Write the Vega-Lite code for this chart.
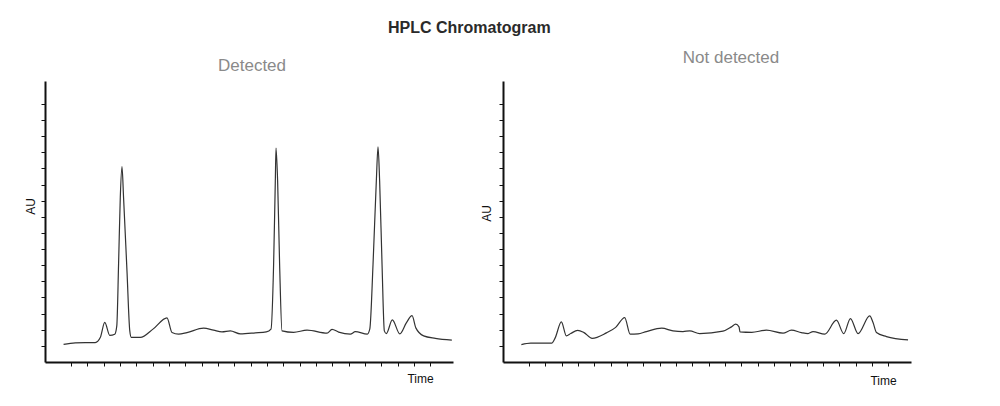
{
  "$schema": "https://vega.github.io/schema/vega-lite/v6.json",
  "padding": {"left": 24, "top": 20, "right": 5, "bottom": 5},
  "background": "white",
  "bounds": "flush",
  "spacing": 50,
  "title": {"text": "HPLC Chromatogram", "anchor": "start", "frame": "group", "font": "Liberation Sans", "fontSize": 16, "fontWeight": "bold", "color": "#2a2a2a", "dx": 343, "dy": -9},
  "datasets": {
    "detected": [
      {"t": 0.547, "au": 1.093}, {"t": 1.263, "au": 1.186}, {"t": 2.488, "au": 1.205}, {"t": 2.794, "au": 1.515},
      {"t": 3.070, "au": 2.457}, {"t": 3.376, "au": 1.651}, {"t": 3.682, "au": 1.725}, {"t": 3.805, "au": 2.240},
      {"t": 3.915, "au": 6.084}, {"t": 4.019, "au": 10.176}, {"t": 4.123, "au": 12.116}, {"t": 4.221, "au": 10.176},
      {"t": 4.429, "au": 5.650}, {"t": 4.601, "au": 1.930}, {"t": 4.693, "au": 1.527}, {"t": 5.244, "au": 1.527},
      {"t": 6.040, "au": 2.054}, {"t": 6.879, "au": 2.736}, {"t": 7.185, "au": 1.825}, {"t": 7.589, "au": 1.725},
      {"t": 8.103, "au": 1.825}, {"t": 9.120, "au": 2.097}, {"t": 9.732, "au": 1.973}, {"t": 10.247, "au": 1.868},
      {"t": 10.755, "au": 1.930}, {"t": 11.368, "au": 1.744}, {"t": 12.286, "au": 1.806}, {"t": 12.960, "au": 1.868},
      {"t": 13.247, "au": 2.035}, {"t": 13.407, "au": 6.065}, {"t": 13.511, "au": 11.229}, {"t": 13.554, "au": 13.257},
      {"t": 13.652, "au": 11.229}, {"t": 13.774, "au": 6.065}, {"t": 13.921, "au": 1.930}, {"t": 14.631, "au": 1.837},
      {"t": 15.452, "au": 1.973}, {"t": 16.677, "au": 1.787}, {"t": 16.983, "au": 2.023}, {"t": 17.387, "au": 1.856},
      {"t": 18.104, "au": 1.725}, {"t": 18.410, "au": 1.880}, {"t": 19.145, "au": 1.732}, {"t": 19.297, "au": 2.054},
      {"t": 19.494, "au": 6.065}, {"t": 19.696, "au": 11.229}, {"t": 19.800, "au": 13.337}, {"t": 19.898, "au": 11.229},
      {"t": 20.045, "au": 6.065}, {"t": 20.186, "au": 1.930}, {"t": 20.308, "au": 1.763}, {"t": 20.676, "au": 2.612},
      {"t": 21.135, "au": 1.744}, {"t": 21.533, "au": 2.426}, {"t": 21.882, "au": 2.872}, {"t": 22.115, "au": 2.116},
      {"t": 22.592, "au": 1.620}, {"t": 23.308, "au": 1.465}, {"t": 24.319, "au": 1.353}
    ],
    "notdetected": [
      {"t": 0.535, "au": 1.074}, {"t": 1.104, "au": 1.167}, {"t": 2.390, "au": 1.167}, {"t": 2.604, "au": 1.496},
      {"t": 2.984, "au": 2.488}, {"t": 3.290, "au": 1.620}, {"t": 3.554, "au": 1.763}, {"t": 3.982, "au": 1.961},
      {"t": 4.350, "au": 1.837}, {"t": 4.870, "au": 1.465}, {"t": 5.740, "au": 1.806}, {"t": 6.309, "au": 2.147},
      {"t": 6.860, "au": 2.754}, {"t": 7.197, "au": 1.725}, {"t": 7.675, "au": 1.744}, {"t": 8.189, "au": 1.887},
      {"t": 9.126, "au": 2.097}, {"t": 9.818, "au": 1.930}, {"t": 10.430, "au": 1.887}, {"t": 10.841, "au": 1.930},
      {"t": 11.453, "au": 1.763}, {"t": 12.880, "au": 1.911}, {"t": 13.394, "au": 2.178}, {"t": 13.658, "au": 2.345},
      {"t": 13.860, "au": 2.178}, {"t": 13.921, "au": 1.868}, {"t": 14.637, "au": 1.837}, {"t": 15.537, "au": 1.973},
      {"t": 16.554, "au": 1.787}, {"t": 17.068, "au": 1.973}, {"t": 17.681, "au": 1.825}, {"t": 18.085, "au": 1.763},
      {"t": 18.391, "au": 1.887}, {"t": 19.108, "au": 1.725}, {"t": 19.824, "au": 2.593}, {"t": 20.271, "au": 1.763},
      {"t": 20.682, "au": 2.693}, {"t": 21.147, "au": 1.763}, {"t": 21.863, "au": 2.860}, {"t": 22.066, "au": 2.445},
      {"t": 22.274, "au": 1.825}, {"t": 22.886, "au": 1.577}, {"t": 24.209, "au": 1.372}
    ]
  },
  "hconcat": [
    {
      "width": 408,
      "height": 281,
      "title": {"text": "Detected", "font": "Liberation Sans", "fontSize": 17, "fontWeight": "normal", "color": "#8a8a8a", "dx": 3, "dy": -2},
      "data": {"name": "detected"},
      "mark": {"type": "line", "interpolate": "monotone", "stroke": "#333333", "strokeWidth": 1.2},
      "encoding": {
        "x": {"field": "t", "type": "quantitative", "scale": {"domain": [-0.59, 24.39], "nice": false, "zero": false},
          "axis": {"title": "Time", "values": [1,2,3,4,5,6,7,8,9,10,11,12,13,14,15,16,17,18,19,20,21,22,23], "titleX": 375, "titleY": 16, "titleBaseline": "middle", "titleAlign": "center"}},
        "y": {"field": "au", "type": "quantitative", "scale": {"domain": [0, 17.42], "nice": false, "zero": false},
          "axis": {"title": "AU", "values": [1,2,3,4,5,6,7,8,9,10,11,12,13,14,15,16], "titleX": -15, "titleY": 125, "titleBaseline": "middle", "titleAlign": "center", "titleAngle": -90}}
      }
    },
    {
      "width": 408,
      "height": 281,
      "title": {"text": "Not detected", "font": "Liberation Sans", "fontSize": 17, "fontWeight": "normal", "color": "#8a8a8a", "dx": 24, "dy": -10},
      "data": {"name": "notdetected"},
      "mark": {"type": "line", "interpolate": "monotone", "stroke": "#333333", "strokeWidth": 1.2},
      "encoding": {
        "x": {"field": "t", "type": "quantitative", "scale": {"domain": [-0.59, 24.39], "nice": false, "zero": false},
          "axis": {"title": "Time", "values": [1,2,3,4,5,6,7,8,9,10,11,12,13,14,15,16,17,18,19,20,21,22,23], "titleX": 380, "titleY": 18, "titleBaseline": "middle", "titleAlign": "center"}},
        "y": {"field": "au", "type": "quantitative", "scale": {"domain": [0, 17.42], "nice": false, "zero": false},
          "axis": {"title": "AU", "values": [1,2,3,4,5,6,7,8,9,10,11,12,13,14,15,16], "titleX": -17, "titleY": 132, "titleBaseline": "middle", "titleAlign": "center", "titleAngle": -90}}
      }
    }
  ],
  "config": {
    "view": {"stroke": null},
    "axis": {
      "grid": false,
      "labels": false,
      "domainColor": "#111111",
      "domainWidth": 2,
      "tickColor": "#111111",
      "tickWidth": 1,
      "tickSize": 4,
      "titleFont": "Liberation Sans",
      "titleFontSize": 12,
      "titleFontWeight": "normal",
      "titleColor": "#111111"
    }
  }
}
